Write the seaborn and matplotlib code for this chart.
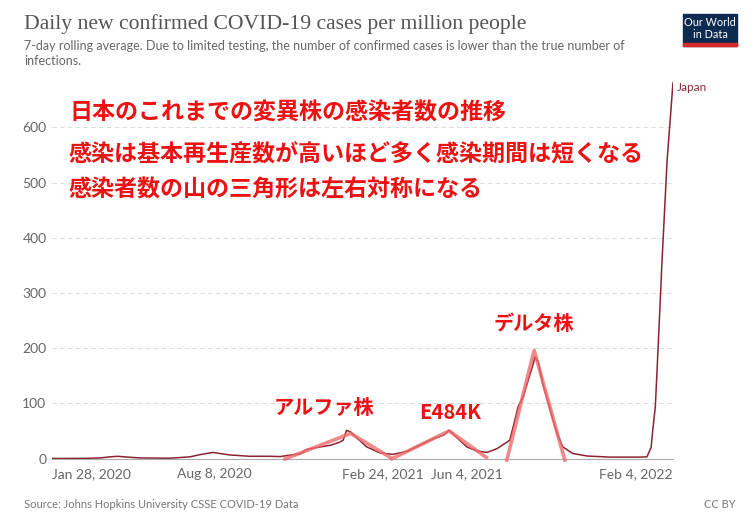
import numpy as np
import pandas as pd
import matplotlib.pyplot as plt
import matplotlib.patches as mpatches
import seaborn as sns

# Japan, 7-day rolling average of new cases per million
dates = ["2020-01-28", "2020-03-07", "2020-03-25", "2020-04-06", "2020-04-15", "2020-04-27",
         "2020-05-12", "2020-06-16", "2020-07-10", "2020-07-22", "2020-08-06", "2020-08-26",
         "2020-09-19", "2020-10-13", "2020-10-25", "2020-11-19", "2020-11-25", "2020-12-04",
         "2020-12-24", "2021-01-03", "2021-01-08", "2021-01-12", "2021-01-17", "2021-01-23",
         "2021-02-05", "2021-02-21", "2021-03-08", "2021-03-25", "2021-04-09", "2021-04-25",
         "2021-05-07", "2021-05-14", "2021-05-23", "2021-06-04", "2021-06-16", "2021-06-28",
         "2021-07-10", "2021-07-19", "2021-07-25", "2021-07-29", "2021-08-04", "2021-08-10",
         "2021-08-16", "2021-08-22", "2021-08-24", "2021-08-28", "2021-09-02", "2021-09-11",
         "2021-09-19", "2021-09-26", "2021-10-08", "2021-10-25", "2021-11-21", "2021-12-27",
         "2022-01-04", "2022-01-09", "2022-01-11", "2022-01-14", "2022-01-17", "2022-01-22",
         "2022-01-28", "2022-02-04"]
cases = [0, 0.3, 1, 3, 4, 2.5, 1, 0.5, 3, 7, 11, 6.5,
         4, 4, 3.5, 9, 16, 19, 24, 29, 33, 51, 48, 39,
         21, 10, 7.5, 13, 24, 36, 42, 51, 38, 21, 13.5, 11,
         18, 27, 33, 57, 94, 112, 142, 172, 184, 175, 136, 88,
         46, 21, 9, 4.5, 2.5, 2.5, 3, 20, 52, 94, 191, 359,
         540, 681]

# hand drawn triangles over the waves
alpha_dates = ["2020-10-29", "2021-01-17", "2021-03-07"]
alpha_vals = [-2, 45.5, 0]
e484k_dates = ["2021-03-05", "2021-05-14", "2021-06-29"]
e484k_vals = [-2, 50, 0]
delta_dates = ["2021-07-21", "2021-08-23", "2021-09-29"]
delta_vals = [-6, 196, -6]

tick_dates = ["2020-01-28", "2020-08-08", "2021-02-24", "2021-06-04", "2022-02-04"]
tick_labels = ["Jan 28, 2020", "Aug 8, 2020", "Feb 24, 2021", "Jun 4, 2021", "Feb 4, 2022"]
y_ticks = [0, 100, 200, 300, 400, 500, 600]

notes = ["日本のこれまでの変異株の感染者数の推移",
         "感染は基本再生産数が高いほど多く感染期間は短くなる",
         "感染者数の山の三角形は左右対称になる"]

df = pd.DataFrame({"date": pd.to_datetime(dates), "cases": cases})

sns.set_style("white")
plt.rcParams["font.family"] = ["Lato", "DejaVu Sans"]
jp = ["Noto Sans CJK JP", "DejaVu Sans"]

W, H = 755, 524
fig = plt.figure(figsize=(W / 100, H / 100), dpi=100)


def fx(px):
    return px / W


def fy(py):
    return 1 - py / H


ymax = 700
y0, y600 = 458.5, 127.3
ytop = y0 - (y0 - y600) / 600 * ymax
ax = fig.add_axes([fx(52), fy(y0), fx(673) - fx(52), fy(ytop) - fy(y0)])

line_col = "#8b2331"
sns.lineplot(data=df, x="date", y="cases", color=line_col, linewidth=1.1, ax=ax)

tri_col = "#f06a6a"
for d, v in [(alpha_dates, alpha_vals), (e484k_dates, e484k_vals), (delta_dates, delta_vals)]:
    ax.plot(pd.to_datetime(d), v, color=tri_col, lw=2.6, alpha=0.8,
            solid_capstyle="butt", clip_on=False, zorder=5)

ax.set_xlim(pd.Timestamp("2020-01-28"), pd.Timestamp("2022-02-04"))
ax.set_ylim(0, ymax)
ax.set_xlabel("")
ax.set_ylabel("")

ax.set_yticks(y_ticks)
ax.set_yticklabels([str(t) for t in y_ticks])
ax.tick_params(axis="y", length=0, pad=4, labelsize=10, labelcolor="#666666")
ax.yaxis.grid(True, linestyle=(0, (4, 3)), color="#dddddd", lw=0.8)
ax.set_axisbelow(True)

ax.set_xticks(pd.to_datetime(tick_dates))
ax.set_xticklabels(tick_labels)
ax.tick_params(axis="x", length=4, width=0.8, color="#aaaaaa", pad=3,
               labelsize=10, labelcolor="#666666")
xl = ax.get_xticklabels()
xl[0].set_ha("left")
xl[-1].set_ha("right")

for s in ["left", "top", "right"]:
    ax.spines[s].set_visible(False)
ax.spines["bottom"].set_color("#aaaaaa")
ax.spines["bottom"].set_linewidth(0.8)

ax.text(pd.Timestamp("2022-02-09"), 672, "Japan", color=line_col, fontsize=8.5,
        va="center", ha="left", clip_on=False)

# red notes
for txt, py in zip(notes, [113, 155, 190]):
    fig.text(fx(69), fy(py), txt, color="#ee1111", fontsize=16.6, fontweight="bold",
             family=jp, va="center", ha="left")
ax.text(pd.Timestamp("2020-10-18"), 92, "アルファ株", color="#ee1111", fontsize=14.5,
        fontweight="bold", family=jp, va="center", ha="left")
ax.text(pd.Timestamp("2021-04-08"), 83, "E484K", color="#ee1111", fontsize=14.5,
        fontweight="bold", family=jp, va="center", ha="left")
ax.text(pd.Timestamp("2021-07-06"), 244, "デルタ株", color="#ee1111", fontsize=14.5,
        fontweight="bold", family=jp, va="center", ha="left")

# header
fig.text(fx(24), fy(24), "Daily new confirmed COVID-19 cases per million people",
         family=["Liberation Serif"], fontsize=15.6, color="#555555", va="center", ha="left")
fig.text(fx(24), fy(46), "7-day rolling average. Due to limited testing, the number of confirmed cases is lower than the true number of",
         fontsize=9, color="#666666", va="center", ha="left")
fig.text(fx(24), fy(61), "infections.", fontsize=9, color="#666666", va="center", ha="left")

# logo
fig.patches.append(mpatches.Rectangle((fx(683), fy(46)), fx(54), fy(14) - fy(46),
                                      transform=fig.transFigure, color="#0d2a4f"))
fig.patches.append(mpatches.Rectangle((fx(683), fy(46)), fx(54), fy(43) - fy(46),
                                      transform=fig.transFigure, color="#d42b2b"))
fig.text(fx(710), fy(22), "Our World", color="white", fontsize=7.8, ha="center", va="center")
fig.text(fx(710), fy(35), "in Data", color="white", fontsize=7.8, ha="center", va="center")

# footer
fig.text(fx(24), fy(504), "Source: Johns Hopkins University CSSE COVID-19 Data",
         fontsize=8, color="#777777", va="center", ha="left")
fig.text(fx(736), fy(504), "CC BY", fontsize=8, color="#777777", va="center", ha="right")

fig.savefig("out.png", dpi=100)
